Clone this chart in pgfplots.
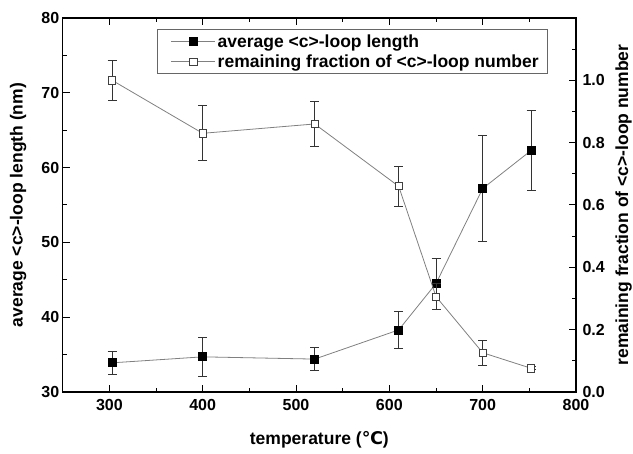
\documentclass[border=0pt]{standalone}
\usepackage{fontspec}
\setmainfont{Liberation Sans}
\newfontfamily\degfont{DejaVu Sans}
\usepackage{pgfplots}
\usepackage{pgfplotstable}
\pgfplotsset{compat=1.18}

% average <c>-loop length (nm), symmetric error
\pgfplotstableread{
x    y     err
303  33.9  1.55
400  34.7  2.65
520  34.4  1.55
610  38.3  2.5
650  44.5  3.4
700  57.2  7.1
752  62.3  5.3
}\lengthdata

% remaining fraction of <c>-loop number
\pgfplotstableread{
x    y      err
303  1.00   0.065
400  0.83   0.088
520  0.86   0.072
610  0.66   0.063
650  0.306  0.041
700  0.126  0.040
752  0.076  0.005
}\fracdata

\pgfplotsset{
  lenstyle/.style={draw=gray, line width=0.8pt, mark=square*,
    mark size=4pt, mark options={draw=black, fill=black, solid}},
  fracstyle/.style={draw=gray, line width=0.8pt, mark=square*,
    mark size=3.6pt, mark options={draw=black!75, fill=white, solid, line width=0.8pt}},
  common/.style={
    scale only axis, width=513.3pt, height=374pt,
    xmin=250, xmax=800,
    tick align=inside,
    major tick length=7pt, minor tick length=4pt,
    every tick/.style={black, line width=1pt},
    axis line style={line width=1.6pt},
    tick label style={font=\bfseries\fontsize{16}{16}\selectfont},
    label style={font=\bfseries\fontsize{17.5}{17.5}\selectfont},
    /pgf/number format/assume math mode=true,
    error bars/error bar style={black!80, line width=0.8pt},
    error bars/error mark options={rotate=90, mark size=4.5pt, black!80, line width=0.8pt},
  },
}

\begin{document}
\begin{tikzpicture}
\begin{axis}[
  common, name=ax,
  ymin=30, ymax=80,
  xtick={300,400,...,800},
  minor xtick={250,350,...,750},
  xtick pos=both, xticklabel pos=lower,
  xticklabel style={yshift=-4pt},
  ytick={30,40,...,80}, minor ytick={35,45,...,75},
  ytick pos=left,
  xlabel={temperature ({\degfont ℃})},
  ylabel={average <c>-loop length (nm)},
  xlabel style={at={(axis description cs:0.5,-0.128)}, anchor=center},
  ylabel style={at={(axis description cs:-0.087,0.5)}, anchor=center},
]
\addplot+[lenstyle, error bars/.cd, y dir=both, y explicit]
  table[x=x, y=y, y error=err] {\lengthdata};
\end{axis}

\begin{axis}[
  common,
  ymin=0, ymax=1.2,
  axis x line=none, axis y line*=right,
  ytick={0,0.2,...,1.0}, minor ytick={0.1,0.3,...,1.1},
  yticklabel style={xshift=3pt, /pgf/number format/.cd, fixed, fixed zerofill, precision=1},
  ylabel={remaining fraction of <c>-loop number},
  ylabel style={at={(axis description cs:1.093,0.5)}, anchor=center, rotate=0},
  legend style={at={(axis description cs:0.9455,0.9706)}, anchor=north east,
    draw=black!60, line width=0.8pt, inner xsep=7pt, inner ysep=3pt,
    font=\bfseries\fontsize{17.5}{17.5}\selectfont, row sep=2pt,
    cells={anchor=west}},
  legend image code/.code={\path (-7pt,0pt);\draw[mark repeat=2, mark phase=2]
    plot coordinates {(0pt,0pt) (22pt,0pt) (44pt,0pt)};},
]
\addlegendimage{lenstyle}
\addlegendentry{average <c>-loop length}
\addplot+[fracstyle, error bars/.cd, y dir=both, y explicit]
  table[x=x, y=y, y error=err] {\fracdata};
\addlegendentry{remaining fraction of <c>-loop number}
\end{axis}

\pgfresetboundingbox
\path[use as bounding box] ([shift={(-62.7pt,-62pt)}]ax.south west)
  rectangle ([shift={(57pt,18pt)}]ax.north east);
\end{tikzpicture}
\end{document}
